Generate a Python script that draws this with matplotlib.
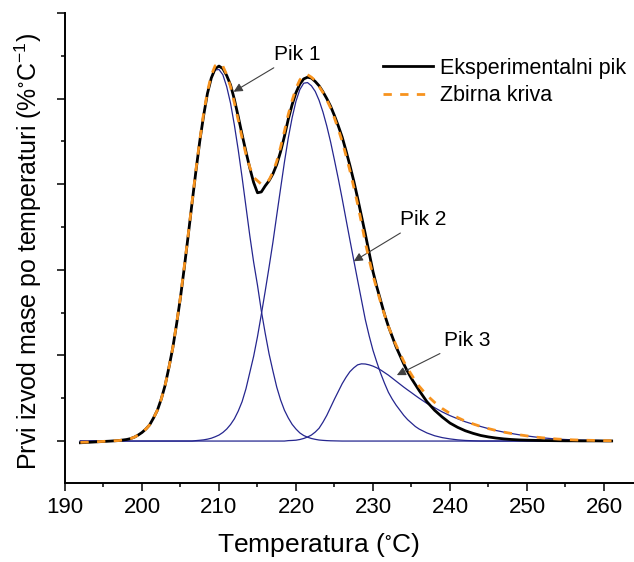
import numpy as np
import matplotlib
matplotlib.use("Agg")
import matplotlib.pyplot as plt
from matplotlib.ticker import MultipleLocator

plt.rcParams["font.family"] = ["Liberation Sans", "DejaVu Sans"]
plt.rcParams["mathtext.fontset"] = "custom"
plt.rcParams["mathtext.rm"] = "Liberation Sans"
plt.rcParams["mathtext.default"] = "regular"

# temperatura (C): korak 1 na krajevima, 0.5 u oblasti pikova 198..236
temperatura = (list(range(192, 198)) + [198 + 0.5 * i for i in range(77)]
               + list(range(237, 262)))

eksperiment = [
  -0.02, -0.015, -0.01, -0.005, 0.0, 0.006,
  0.018, 0.028, 0.045, 0.07, 0.10, 0.14, 0.19, 0.27, 0.36, 0.49,
  0.65, 0.86, 1.09, 1.37, 1.68, 2.03, 2.40, 2.78, 3.15, 3.50,
  3.80, 4.06, 4.24, 4.35, 4.38, 4.35, 4.27, 4.16, 3.99, 3.79,
  3.58, 3.38, 3.19, 3.02, 2.90, 2.91, 2.98, 3.04, 3.12, 3.23,
  3.38, 3.56, 3.76, 3.93, 4.07, 4.17, 4.23, 4.25, 4.24, 4.20,
  4.15, 4.08, 4.00, 3.91, 3.80, 3.68, 3.55, 3.39, 3.22, 3.04,
  2.84, 2.63, 2.42, 2.20, 1.98, 1.80, 1.64, 1.48, 1.34, 1.22,
  1.10, 1.00, 0.90, 0.81, 0.73, 0.66, 0.59,
  0.46, 0.36, 0.28, 0.21, 0.16, 0.12, 0.09, 0.065, 0.048, 0.035,
  0.025, 0.018, 0.013, 0.010, 0.008, 0.006, 0.005, 0.004, 0.003, 0.003,
  0.002, 0.002, 0.002, 0.001, 0.001]

zbirna = [
  -0.015, -0.012, -0.008, -0.004, 0.002, 0.006,
  0.018, 0.028, 0.045, 0.07, 0.10, 0.14, 0.19, 0.27, 0.36, 0.49,
  0.65, 0.86, 1.09, 1.38, 1.69, 2.045, 2.41, 2.79, 3.165, 3.514,
  3.824, 4.082, 4.273, 4.384, 4.41, 4.379, 4.28, 4.139, 3.95, 3.75,
  3.54, 3.35, 3.20, 3.08, 3.04, 3.00, 3.01, 3.05, 3.14, 3.268,
  3.433, 3.62, 3.815, 3.979, 4.12, 4.218, 4.275, 4.279, 4.25, 4.209,
  4.142, 4.072, 3.985, 3.89, 3.772, 3.641, 3.50, 3.334, 3.16, 2.969,
  2.77, 2.552, 2.32, 2.12, 1.935, 1.775, 1.62, 1.475, 1.34, 1.225,
  1.12, 1.025, 0.93, 0.847, 0.775, 0.702, 0.64,
  0.535, 0.452, 0.38, 0.322, 0.274, 0.232, 0.20, 0.17, 0.145, 0.123,
  0.104, 0.088, 0.073, 0.06, 0.048, 0.038, 0.03, 0.023, 0.018, 0.014,
  0.011, 0.009, 0.007, 0.005, 0.004]

pik1 = [
  0, 0, 0, 0, 0.002, 0.006,
  0.018, 0.028, 0.045, 0.07, 0.10, 0.14, 0.19, 0.27, 0.36, 0.49,
  0.65, 0.86, 1.09, 1.38, 1.69, 2.045, 2.41, 2.79, 3.16, 3.505,
  3.81, 4.06, 4.24, 4.334, 4.34, 4.279, 4.14, 3.946, 3.69, 3.40,
  3.08, 2.74, 2.40, 2.09, 1.82, 1.52, 1.26, 1.02, 0.82, 0.63,
  0.48, 0.36, 0.27, 0.195, 0.14, 0.095, 0.065, 0.045, 0.03, 0.02,
  0.012, 0.008, 0.005, 0.003, 0.002, 0.001, 0, 0, 0, 0,
  0, 0, 0, 0, 0, 0, 0, 0, 0, 0,
  0, 0, 0, 0, 0, 0, 0,
  0, 0, 0, 0, 0, 0, 0, 0, 0, 0,
  0, 0, 0, 0, 0, 0, 0, 0, 0, 0,
  0, 0, 0, 0, 0]

pik2 = [
  0, 0, 0, 0, 0, 0,
  0, 0, 0, 0, 0, 0, 0, 0, 0, 0,
  0, 0, 0, 0, 0, 0, 0, 0, 0.005, 0.009,
  0.014, 0.022, 0.033, 0.05, 0.07, 0.10, 0.14, 0.193, 0.26, 0.35,
  0.46, 0.61, 0.80, 0.99, 1.22, 1.48, 1.75, 2.03, 2.32, 2.638,
  2.95, 3.259, 3.54, 3.777, 3.97, 4.105, 4.18, 4.187, 4.15, 4.084,
  3.98, 3.844, 3.68, 3.492, 3.28, 3.061, 2.83, 2.589, 2.35, 2.114,
  1.88, 1.65, 1.42, 1.23, 1.06, 0.92, 0.79, 0.675, 0.57, 0.49,
  0.42, 0.36, 0.30, 0.25, 0.21, 0.17, 0.14,
  0.095, 0.062, 0.04, 0.025, 0.014, 0.007, 0.003, 0, 0, 0,
  0, 0, 0, 0, 0, 0, 0, 0, 0, 0,
  0, 0, 0, 0, 0]

pik3 = [
  0, 0, 0, 0, 0, 0,
  0, 0, 0, 0, 0, 0, 0, 0, 0, 0,
  0, 0, 0, 0, 0, 0, 0, 0, 0, 0,
  0, 0, 0, 0, 0, 0, 0, 0, 0, 0,
  0, 0, 0, 0, 0, 0, 0, 0, 0, 0,
  0, 0, 0.005, 0.007, 0.01, 0.018, 0.03, 0.047, 0.07, 0.105,
  0.15, 0.22, 0.30, 0.395, 0.49, 0.58, 0.67, 0.745, 0.81, 0.855,
  0.89, 0.902, 0.90, 0.89, 0.875, 0.855, 0.83, 0.80, 0.77, 0.735,
  0.70, 0.665, 0.63, 0.597, 0.565, 0.532, 0.50,
  0.44, 0.39, 0.34, 0.297, 0.26, 0.225, 0.197, 0.17, 0.145, 0.123,
  0.104, 0.088, 0.073, 0.06, 0.048, 0.038, 0.03, 0.023, 0.018, 0.014,
  0.011, 0.009, 0.007, 0.005, 0.004]

# (tekst, vrh strelice, polozaj teksta) u jedinicama podataka
oznake = [("Pik 1", (211.9, 4.08), (220.1, 4.52)),
          ("Pik 2", (227.5, 2.10), (236.5, 2.59)),
          ("Pik 3", (233.1, 0.77), (242.2, 1.18))]

plava = "#25268f"
narandzasta = "#f7931e"

fig = plt.figure(figsize = (6.34, 5.62), dpi = 100)
ax = fig.add_axes([65 / 634, 1 - 483 / 562, 569 / 634, 470 / 562])

for p in (pik1, pik2, pik3):
  ax.plot(temperatura, p, color = plava, lw = 0.9, zorder = 2)
ax.plot(temperatura, eksperiment, color = "black", lw = 2.0, zorder = 3,
        label = "Eksperimentalni pik")
ax.plot(temperatura, zbirna, color = narandzasta, lw = 2.0, dashes = (3, 3),
        zorder = 4, label = "Zbirna kriva")

for txt, vrh, poz in oznake:
  ax.annotate(txt, xy = vrh, xytext = poz, ha = "center", va = "center",
              fontsize = 15,
              arrowprops = dict(arrowstyle = "-|>", color = "#404040", lw = 0.8,
                                mutation_scale = 13, shrinkA = 2, shrinkB = 0))

ax.set_xlim(190, 263.9)
ax.set_ylim(-0.49, 5.0)
ax.xaxis.set_major_locator(MultipleLocator(10))
ax.xaxis.set_minor_locator(MultipleLocator(5))
ax.yaxis.set_major_locator(MultipleLocator(1))
ax.yaxis.set_minor_locator(MultipleLocator(0.5))
ax.set_yticklabels([])
ax.tick_params(which = "major", length = 6, width = 1.1, labelsize = 16, pad = 4)
ax.tick_params(which = "minor", length = 3.2, width = 1.1)
for s in ("top", "right"):
  ax.spines[s].set_visible(False)
for s in ("left", "bottom"):
  ax.spines[s].set_linewidth(1.4)

ax.set_xlabel(r"Temperatura ($^{\circ}$C)", fontsize = 19)
ax.xaxis.set_label_coords(0.4446, -0.132)
ax.xaxis.label.set_verticalalignment("center")
ax.set_ylabel(r"Prvi izvod mase po temperaturi (%$^{\circ}$C$^{-1}$)", fontsize = 18)
ax.yaxis.set_label_coords(-0.065, 0.492)
ax.yaxis.label.set_verticalalignment("center")

leg = ax.legend(loc = "upper left", bbox_to_anchor = (0.559, 0.905), frameon = False,
                fontsize = 15.5, handlelength = 2.3, handletextpad = 0.35,
                borderpad = 0, borderaxespad = 0, labelspacing = 0.3)

fig.savefig("out.png", dpi = 100)
